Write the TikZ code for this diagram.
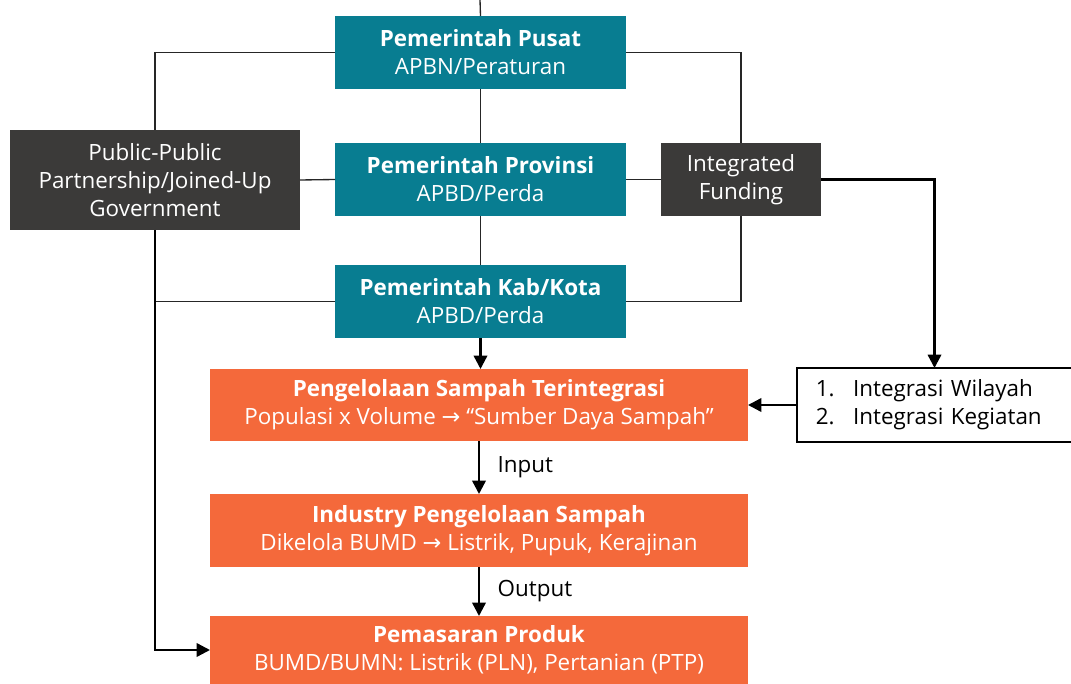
\documentclass[tikz,border=0pt]{standalone}
\usepackage{fontspec}
\setmainfont{Open Sans}
\newfontfamily\arrowfont{DejaVu Sans}
\usetikzlibrary{arrows.meta,calc}
\definecolor{teal}{HTML}{087D91}
\definecolor{orng}{HTML}{F4693B}
\definecolor{dgray}{HTML}{3B3A39}
\newcommand{\rar}{{\arrowfont\char"2192}}
\tikzset{
  every node/.style={font=\fontsize{16.8}{21}\selectfont, inner sep=0pt, outer sep=0pt},
  govbox/.style={fill=teal, text=white, align=center, minimum width=218.25pt, minimum height=54.75pt},
  graybox/.style={fill=dgray, text=white, align=center},
  orbox/.style={fill=orng, text=white, align=center, minimum width=403.5pt},
  thin/.style={draw=black!85, line width=1pt},
  thick/.style={draw=black, line width=1.8pt},
  arr/.style={thick, -{Triangle[length=10pt,width=10pt]}},
}
\begin{document}
\begin{tikzpicture}[x=0.75pt,y=-0.75pt]
\useasboundingbox (0,0) rectangle (1071,684);
% boxes
\node[govbox] (pusat) at (480.5,52.5) {\textbf{Pemerintah Pusat}\\APBN/Peraturan};
\node[govbox] (prov) at (480.5,179.5) {\textbf{Pemerintah Provinsi}\\APBD/Perda};
\node[govbox] (kab) at (480.5,301.5) {\textbf{Pemerintah Kab/Kota}\\APBD/Perda};
\node[graybox, minimum width=217.5pt, minimum height=75pt] (ppp) at (155,180) {Public-Public\\Partnership/Joined-Up\\Government};
\node[graybox, minimum width=120pt, minimum height=54.75pt] (if) at (741,179.5) {Integrated\\Funding};
\node[orbox, minimum height=54pt] (peng) at (479,405) {\textbf{Pengelolaan Sampah Terintegrasi}\\Populasi x Volume \rar{} “Sumber Daya Sampah”};
\node[orbox, minimum height=54.75pt] (ind) at (479,530.5) {\textbf{Industry Pengelolaan Sampah}\\Dikelola BUMD \rar{} Listrik, Pupuk, Kerajinan};
\node[orbox, minimum height=51pt] (pem) at (479,650) {\textbf{Pemasaran Produk}\\BUMD/BUMN: Listrik (PLN), Pertanian (PTP)};
\node[draw=black, line width=1.8pt, fill=white, minimum width=206.25pt, minimum height=55.5pt, align=left, text width=178pt, inner xsep=14pt] (integ) at (934.5,405)
  {\makebox[28pt][l]{1.}Integrasi Wilayah\\\makebox[28pt][l]{2.}Integrasi Kegiatan};
% thin connectors
\coordinate (top) at (480,0);
\draw[thin] (top) -- (pusat.north);
\draw[thin] (pusat.south) -- (prov.north);
\draw[thin] (prov.south) -- (kab.north);
\draw[thin] (pusat.west) -| (ppp.north);
\draw[thin] (pusat.east) -| (if.north);
\draw[thin] (ppp.east) -- (prov.west);
\draw[thin] (prov.east) -- (if.west);
\draw[thin] (if.south) |- (kab.east);
\draw[thin] (kab.west) -| (ppp.south);
% thick arrows
\draw[arr] (ppp.south) |- (pem.west);
\draw[arr] (kab.south) -- (kab.south |- peng.north);
\draw[arr] (if.east) -| (integ.north);
\draw[arr] (integ.west) -- (peng.east);
\draw[arr] (peng.south) -- node[right=14pt, anchor=west] {Input} (peng.south |- ind.north);
\draw[arr] (ind.south) -- node[right=14pt, anchor=west] {Output} (ind.south |- pem.north);
\end{tikzpicture}
\end{document}
